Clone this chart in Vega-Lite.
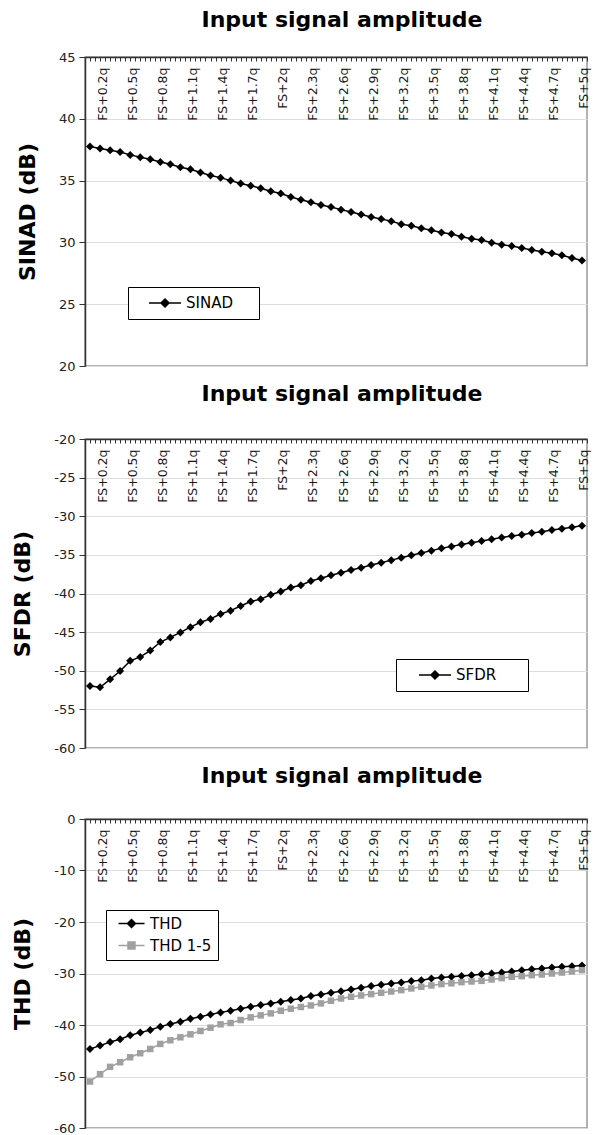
{
  "$schema": "https://vega.github.io/schema/vega-lite/v6.json",
  "padding": {"left": 11, "top": 8, "right": 5, "bottom": 0},
  "background": "white",
  "spacing": 8,
  "config": {
    "font": "DejaVu Sans",
    "view": {"stroke": "#999999", "strokeWidth": 1.5},
    "title": {"font": "DejaVu Sans", "fontSize": 22, "fontWeight": "bold", "color": "black", "anchor": "middle", "dx": 6},
    "axisY": {"labelFont": "DejaVu Sans", "labelFontSize": 13, "labelColor": "#222222", "tickSize": 6, "tickColor": "#333333", "domainColor": "#333333", "domainWidth": 1.5, "labelPadding": 4, "gridColor": "#dddddd", "titleFont": "DejaVu Sans", "titleFontSize": 22, "titleFontWeight": "bold", "titleColor": "black", "titlePadding": 19},
    "axisX": {"labelFont": "DejaVu Sans", "labelFontSize": 12.5, "labelColor": "#1a1a1a", "tickColor": "#333333", "domainColor": "#333333", "domainWidth": 1.5},
    "legend": {"labelFont": "DejaVu Sans", "labelFontSize": 15, "labelColor": "black", "strokeColor": "black", "fillColor": "white", "symbolStrokeWidth": 1.5, "orient": "none", "labelLimit": 300}
  },
  "resolve": {"scale": {"color": "independent", "shape": "independent"}, "legend": {"color": "independent", "shape": "independent"}},
  "data": {"values": [
    {"a":0.1,"SINAD":37.76,"SFDR":-51.97,"THD":-44.65,"THD 1-5":-50.97},
    {"a":0.2,"SINAD":37.60,"SFDR":-52.14,"THD":-44.00,"THD 1-5":-49.55},
    {"a":0.3,"SINAD":37.46,"SFDR":-51.11,"THD":-43.29,"THD 1-5":-48.13},
    {"a":0.4,"SINAD":37.32,"SFDR":-50.04,"THD":-42.77,"THD 1-5":-47.23},
    {"a":0.5,"SINAD":37.08,"SFDR":-48.72,"THD":-42.00,"THD 1-5":-46.26},
    {"a":0.6,"SINAD":36.89,"SFDR":-48.21,"THD":-41.48,"THD 1-5":-45.48},
    {"a":0.7,"SINAD":36.73,"SFDR":-47.39,"THD":-40.97,"THD 1-5":-44.65},
    {"a":0.8,"SINAD":36.51,"SFDR":-46.28,"THD":-40.32,"THD 1-5":-43.68},
    {"a":0.9,"SINAD":36.32,"SFDR":-45.68,"THD":-39.81,"THD 1-5":-42.97},
    {"a":1.0,"SINAD":36.08,"SFDR":-45.04,"THD":-39.35,"THD 1-5":-42.39},
    {"a":1.1,"SINAD":35.92,"SFDR":-44.36,"THD":-38.77,"THD 1-5":-41.81},
    {"a":1.2,"SINAD":35.65,"SFDR":-43.72,"THD":-38.39,"THD 1-5":-41.16},
    {"a":1.3,"SINAD":35.41,"SFDR":-43.29,"THD":-37.94,"THD 1-5":-40.52},
    {"a":1.4,"SINAD":35.24,"SFDR":-42.65,"THD":-37.55,"THD 1-5":-39.87},
    {"a":1.5,"SINAD":35.00,"SFDR":-42.22,"THD":-37.23,"THD 1-5":-39.61},
    {"a":1.6,"SINAD":34.76,"SFDR":-41.62,"THD":-36.84,"THD 1-5":-39.03},
    {"a":1.7,"SINAD":34.59,"SFDR":-41.03,"THD":-36.45,"THD 1-5":-38.52},
    {"a":1.8,"SINAD":34.38,"SFDR":-40.73,"THD":-36.13,"THD 1-5":-38.13},
    {"a":1.9,"SINAD":34.14,"SFDR":-40.17,"THD":-35.81,"THD 1-5":-37.74},
    {"a":2.0,"SINAD":33.95,"SFDR":-39.74,"THD":-35.48,"THD 1-5":-37.23},
    {"a":2.1,"SINAD":33.68,"SFDR":-39.23,"THD":-35.16,"THD 1-5":-36.84},
    {"a":2.2,"SINAD":33.45,"SFDR":-38.93,"THD":-34.84,"THD 1-5":-36.50},
    {"a":2.3,"SINAD":33.25,"SFDR":-38.38,"THD":-34.39,"THD 1-5":-36.20},
    {"a":2.4,"SINAD":33.03,"SFDR":-38.03,"THD":-34.06,"THD 1-5":-35.81},
    {"a":2.5,"SINAD":32.86,"SFDR":-37.65,"THD":-33.74,"THD 1-5":-35.29},
    {"a":2.6,"SINAD":32.65,"SFDR":-37.31,"THD":-33.45,"THD 1-5":-34.84},
    {"a":2.7,"SINAD":32.46,"SFDR":-36.97,"THD":-33.10,"THD 1-5":-34.52},
    {"a":2.8,"SINAD":32.25,"SFDR":-36.67,"THD":-32.77,"THD 1-5":-34.26},
    {"a":2.9,"SINAD":32.06,"SFDR":-36.32,"THD":-32.45,"THD 1-5":-34.00},
    {"a":3.0,"SINAD":31.90,"SFDR":-36.03,"THD":-32.20,"THD 1-5":-33.74},
    {"a":3.1,"SINAD":31.72,"SFDR":-35.68,"THD":-31.94,"THD 1-5":-33.50},
    {"a":3.2,"SINAD":31.47,"SFDR":-35.38,"THD":-31.75,"THD 1-5":-33.23},
    {"a":3.3,"SINAD":31.34,"SFDR":-35.04,"THD":-31.48,"THD 1-5":-32.90},
    {"a":3.4,"SINAD":31.15,"SFDR":-34.75,"THD":-31.29,"THD 1-5":-32.58},
    {"a":3.5,"SINAD":30.99,"SFDR":-34.45,"THD":-30.97,"THD 1-5":-32.32},
    {"a":3.6,"SINAD":30.80,"SFDR":-34.15,"THD":-30.77,"THD 1-5":-32.06},
    {"a":3.7,"SINAD":30.68,"SFDR":-33.90,"THD":-30.65,"THD 1-5":-31.90},
    {"a":3.8,"SINAD":30.45,"SFDR":-33.65,"THD":-30.50,"THD 1-5":-31.68},
    {"a":3.9,"SINAD":30.29,"SFDR":-33.42,"THD":-30.33,"THD 1-5":-31.55},
    {"a":4.0,"SINAD":30.19,"SFDR":-33.20,"THD":-30.13,"THD 1-5":-31.42},
    {"a":4.1,"SINAD":29.97,"SFDR":-32.98,"THD":-30.00,"THD 1-5":-31.16},
    {"a":4.2,"SINAD":29.81,"SFDR":-32.76,"THD":-29.81,"THD 1-5":-30.90},
    {"a":4.3,"SINAD":29.71,"SFDR":-32.56,"THD":-29.61,"THD 1-5":-30.65},
    {"a":4.4,"SINAD":29.55,"SFDR":-32.39,"THD":-29.35,"THD 1-5":-30.52},
    {"a":4.5,"SINAD":29.38,"SFDR":-32.18,"THD":-29.16,"THD 1-5":-30.32},
    {"a":4.6,"SINAD":29.25,"SFDR":-32.01,"THD":-29.03,"THD 1-5":-30.19},
    {"a":4.7,"SINAD":29.12,"SFDR":-31.79,"THD":-28.84,"THD 1-5":-30.00},
    {"a":4.8,"SINAD":28.96,"SFDR":-31.62,"THD":-28.71,"THD 1-5":-29.81},
    {"a":4.9,"SINAD":28.74,"SFDR":-31.41,"THD":-28.58,"THD 1-5":-29.60},
    {"a":5.0,"SINAD":28.53,"SFDR":-31.24,"THD":-28.45,"THD 1-5":-29.35}
  ]},
  "vconcat": [
    {
      "title": {"text": "Input signal amplitude", "offset": 19},
      "width": 502, "height": 309,
      "transform": [{"fold": ["SINAD"], "as": ["series", "v"]}],
      "encoding": {
        "x": {"field": "a", "type": "quantitative", "scale": {"domain": [0.05, 5.05], "nice": false, "zero": false},
          "axis": {"orient": "top", "title": null, "grid": false,
            "values": [0.05,0.1,0.15,0.2,0.25,0.3,0.35,0.4,0.45,0.5,0.55,0.6,0.65,0.7,0.75,0.8,0.85,0.9,0.95,1,1.05,1.1,1.15,1.2,1.25,1.3,1.35,1.4,1.45,1.5,1.55,1.6,1.65,1.7,1.75,1.8,1.85,1.9,1.95,2,2.05,2.1,2.15,2.2,2.25,2.3,2.35,2.4,2.45,2.5,2.55,2.6,2.65,2.7,2.75,2.8,2.85,2.9,2.95,3,3.05,3.1,3.15,3.2,3.25,3.3,3.35,3.4,3.45,3.5,3.55,3.6,3.65,3.7,3.75,3.8,3.85,3.9,3.95,4,4.05,4.1,4.15,4.2,4.25,4.3,4.35,4.4,4.45,4.5,4.55,4.6,4.65,4.7,4.75,4.8,4.85,4.9,4.95,5,5.05],
            "labelExpr": "(round(datum.value*100) - 20) % 30 == 0 && round(datum.value*100) >= 20 ? 'FS+' + toString(round(datum.value*10)/10) + 'q' : ''",
            "labelAngle": 270, "labelAlign": "right", "labelBaseline": "middle", "labelPadding": -6, "tickSize": -4,
            "labelFlush": false, "labelOverlap": false, "labelBound": false, "labelOffset": 2}},
        "y": {"field": "v", "type": "quantitative", "scale": {"domain": [20, 45], "nice": false, "zero": false},
          "axis": {"title": "SINAD (dB)", "values": [20, 25, 30, 35, 40, 45], "labelExpr": "toString(datum.value)", "grid": true}},
        "color": {"field": "series", "type": "nominal", "scale": {"domain": ["SINAD"], "range": ["black"]},
          "legend": {"title": null, "legendX": 43, "legendY": 230, "padding": 8, "symbolOffset": 21, "labelOffset": 13, "symbolSize": 196,
            "symbolType": "M-2.286,0L2.286,0M0,-0.571L0.571,0L0,0.571L-0.571,0ZM11.8,0", "symbolFillColor": "black", "symbolStrokeColor": "black"}}
      },
      "layer": [
        {"mark": {"type": "line", "strokeWidth": 1.5}},
        {"mark": {"type": "point", "shape": "diamond", "filled": true, "size": 64, "opacity": 1}}
      ]
    },
    {
      "title": {"text": "Input signal amplitude", "offset": 27},
      "width": 502, "height": 309,
      "transform": [{"fold": ["SFDR"], "as": ["series", "v"]}],
      "encoding": {
        "x": {"field": "a", "type": "quantitative", "scale": {"domain": [0.05, 5.05], "nice": false, "zero": false},
          "axis": {"orient": "top", "title": null, "grid": false,
            "values": [0.05,0.1,0.15,0.2,0.25,0.3,0.35,0.4,0.45,0.5,0.55,0.6,0.65,0.7,0.75,0.8,0.85,0.9,0.95,1,1.05,1.1,1.15,1.2,1.25,1.3,1.35,1.4,1.45,1.5,1.55,1.6,1.65,1.7,1.75,1.8,1.85,1.9,1.95,2,2.05,2.1,2.15,2.2,2.25,2.3,2.35,2.4,2.45,2.5,2.55,2.6,2.65,2.7,2.75,2.8,2.85,2.9,2.95,3,3.05,3.1,3.15,3.2,3.25,3.3,3.35,3.4,3.45,3.5,3.55,3.6,3.65,3.7,3.75,3.8,3.85,3.9,3.95,4,4.05,4.1,4.15,4.2,4.25,4.3,4.35,4.4,4.45,4.5,4.55,4.6,4.65,4.7,4.75,4.8,4.85,4.9,4.95,5,5.05],
            "labelExpr": "(round(datum.value*100) - 20) % 30 == 0 && round(datum.value*100) >= 20 ? 'FS+' + toString(round(datum.value*10)/10) + 'q' : ''",
            "labelAngle": 270, "labelAlign": "right", "labelBaseline": "middle", "labelPadding": -6, "tickSize": -4,
            "labelFlush": false, "labelOverlap": false, "labelBound": false, "labelOffset": 2}},
        "y": {"field": "v", "type": "quantitative", "scale": {"domain": [-60, -20], "nice": false, "zero": false},
          "axis": {"title": "SFDR (dB)", "values": [-60, -55, -50, -45, -40, -35, -30, -25, -20], "labelExpr": "toString(datum.value)", "grid": true}},
        "color": {"field": "series", "type": "nominal", "scale": {"domain": ["SFDR"], "range": ["black"]},
          "legend": {"title": null, "legendX": 311, "legendY": 220, "padding": 8, "symbolOffset": 23, "labelOffset": 13, "symbolSize": 196,
            "symbolType": "M-2.286,0L2.286,0M0,-0.571L0.571,0L0,0.571L-0.571,0ZM11.6,0", "symbolFillColor": "black", "symbolStrokeColor": "black"}}
      },
      "layer": [
        {"mark": {"type": "line", "strokeWidth": 1.5}},
        {"mark": {"type": "point", "shape": "diamond", "filled": true, "size": 64, "opacity": 1}}
      ]
    },
    {
      "title": {"text": "Input signal amplitude", "offset": 25},
      "width": 502, "height": 309,
      "transform": [{"fold": ["THD", "THD 1-5"], "as": ["series", "v"]}],
      "encoding": {
        "x": {"field": "a", "type": "quantitative", "scale": {"domain": [0.05, 5.05], "nice": false, "zero": false},
          "axis": {"orient": "top", "title": null, "grid": false,
            "values": [0.05,0.1,0.15,0.2,0.25,0.3,0.35,0.4,0.45,0.5,0.55,0.6,0.65,0.7,0.75,0.8,0.85,0.9,0.95,1,1.05,1.1,1.15,1.2,1.25,1.3,1.35,1.4,1.45,1.5,1.55,1.6,1.65,1.7,1.75,1.8,1.85,1.9,1.95,2,2.05,2.1,2.15,2.2,2.25,2.3,2.35,2.4,2.45,2.5,2.55,2.6,2.65,2.7,2.75,2.8,2.85,2.9,2.95,3,3.05,3.1,3.15,3.2,3.25,3.3,3.35,3.4,3.45,3.5,3.55,3.6,3.65,3.7,3.75,3.8,3.85,3.9,3.95,4,4.05,4.1,4.15,4.2,4.25,4.3,4.35,4.4,4.45,4.5,4.55,4.6,4.65,4.7,4.75,4.8,4.85,4.9,4.95,5,5.05],
            "labelExpr": "(round(datum.value*100) - 20) % 30 == 0 && round(datum.value*100) >= 20 ? 'FS+' + toString(round(datum.value*10)/10) + 'q' : ''",
            "labelAngle": 270, "labelAlign": "right", "labelBaseline": "middle", "labelPadding": -6, "tickSize": -4,
            "labelFlush": false, "labelOverlap": false, "labelBound": false, "labelOffset": 2}},
        "y": {"field": "v", "type": "quantitative", "scale": {"domain": [-60, 0], "nice": false, "zero": false},
          "axis": {"title": "THD (dB)", "values": [-60, -50, -40, -30, -20, -10, 0], "labelExpr": "toString(datum.value)", "grid": true}},
        "color": {"field": "series", "type": "nominal", "scale": {"domain": ["THD", "THD 1-5"], "range": ["black", "#a0a0a0"]},
          "legend": {"title": null, "legendX": 21, "legendY": 91, "padding": 6, "symbolOffset": 12, "labelOffset": 11, "symbolSize": 144, "rowPadding": 6, "symbolOpacity": 1}}
      },
      "layer": [
        {"mark": {"type": "line", "strokeWidth": 1.5}},
        {"transform": [{"filter": "datum.series == 'THD'"}],
          "mark": {"type": "point", "shape": "diamond", "filled": true, "size": 64, "opacity": 1}},
        {"transform": [{"filter": "datum.series == 'THD 1-5'"}],
          "mark": {"type": "point", "shape": "square", "filled": true, "size": 42, "opacity": 1}},
        {"mark": {"type": "point", "filled": true, "opacity": 0},
          "encoding": {"shape": {"field": "series", "type": "nominal",
            "scale": {"domain": ["THD", "THD 1-5"], "range": ["M-2.167,0L2.167,0M0,-0.667L0.667,0L0,0.667L-0.667,0Z", "M-2.167,0L2.167,0M-0.583,-0.583L0.583,-0.583L0.583,0.583L-0.583,0.583Z"]},
            "legend": {"title": null, "legendX": 21, "legendY": 91, "padding": 6, "symbolOffset": 12, "labelOffset": 11, "symbolSize": 144, "rowPadding": 6, "symbolOpacity": 1}}}}
      ]
    }
  ]
}
